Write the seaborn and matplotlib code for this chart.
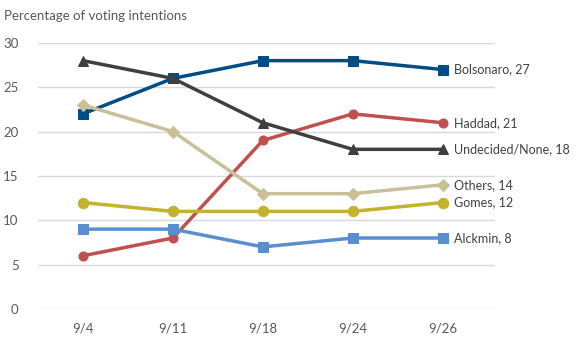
import matplotlib
matplotlib.use("Agg")
import matplotlib.pyplot as plt
import seaborn as sns
import pandas as pd

dates = ["9/4", "9/11", "9/18", "9/24", "9/26"]
bolsonaro = [22, 26, 28, 28, 27]
haddad = [6, 8, 19, 22, 21]
undecided = [28, 26, 21, 18, 18]
others = [23, 20, 13, 13, 14]
gomes = [12, 11, 11, 11, 12]
alckmin = [9, 9, 7, 8, 8]

names = ["Bolsonaro", "Haddad", "Undecided/None", "Others", "Gomes", "Alckmin"]
series = [bolsonaro, haddad, undecided, others, gomes, alckmin]
colors = ["#004C85", "#C0504D", "#3F3F3F", "#C9C09A", "#C3B22D", "#5A8ED0"]
markers = ["s", "o", "^", "D", "o", "s"]
msizes = [6.5, 6.5, 7.5, 6.5, 7.5, 6.5]

rows = []
for n, s in zip(names, series):
    for i, (d, v) in enumerate(zip(dates, s)):
        rows.append({"date": d, "pos": i, "name": n, "value": v})
df = pd.DataFrame(rows)

sns.set_theme(style="white")
plt.rcParams['font.family'] = ['Lato', 'DejaVu Sans']

fig = plt.figure(figsize=(5.76, 3.46), dpi=100)
ax = fig.add_axes([0.066, 0.107, 0.793, 0.769])

for n, c, m, ms in zip(names, colors, markers, msizes):
    sub = df[df["name"] == n]
    sns.lineplot(data=sub, x="pos", y="value", color=c, marker=m, markersize=ms,
                 markeredgecolor=c, linewidth=2.5, ax=ax, legend=False, zorder=3)
    last = sub.iloc[-1]
    ax.annotate(f"{n}, {int(last['value'])}", (last["pos"], last["value"]),
                xytext=(8, 0), textcoords="offset points", va="center", ha="left",
                fontsize=9, color="#404040", annotation_clip=False)

ax.set_xlim(-0.5, 4.58)
ax.set_ylim(0, 30)
ax.set_yticks([0, 5, 10, 15, 20, 25, 30])
ax.set_xticks(range(len(dates)))
ax.set_xticklabels(dates)
ax.yaxis.grid(True, color="#D9D9D9", linewidth=1)
ax.set_axisbelow(True)
for sp in ax.spines.values():
    sp.set_visible(False)
ax.tick_params(axis="both", length=0, labelsize=9.5, colors="#595959")
ax.tick_params(axis="x", pad=10)
ax.tick_params(axis="y", pad=14)
ax.set_xlabel("")
ax.set_ylabel("")
fig.text(0.007, 0.935, "Percentage of voting intentions", fontsize=9.5, color="#595959", ha="left", va="bottom")

fig.savefig("out.png", dpi=100)
